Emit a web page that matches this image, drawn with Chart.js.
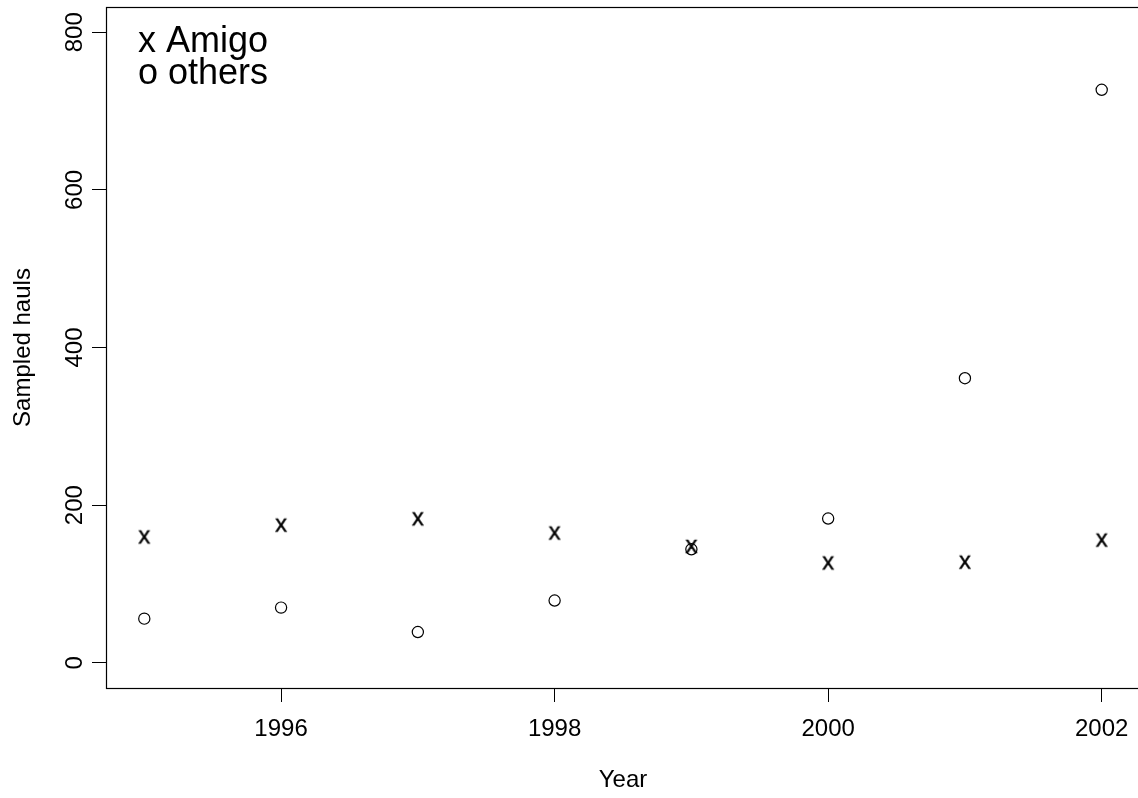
<!DOCTYPE html>
<html>
<head>
<meta charset="utf-8">
<script src="https://cdn.jsdelivr.net/npm/chart.js@4/dist/chart.umd.min.js"></script>
<style>
  html, body { margin: 0; padding: 0; background: #fff; overflow: hidden; }
  #wrap { width: 1147px; height: 798px; }
</style>
</head>
<body>
<div id="wrap"><canvas id="c" width="1147" height="798"></canvas></div>
<script>
// Sampled hauls per year: the Amigo vessel versus all other vessels
const years = [1995, 1996, 1997, 1998, 1999, 2000, 2001, 2002];
const amigoHauls = [159, 174, 182, 164, 147, 126, 127, 155];
const otherHauls = [56, 70, 39, 79, 144, 183, 361, 727];

const xTicks = [1996, 1998, 2000, 2002];
const yTicks = [0, 200, 400, 600, 800];
const legendLines = ['x Amigo', 'o others'];
const xTitle = 'Year';
const yTitle = 'Sampled hauls';

const FONT = '"Liberation Sans", Arial, Helvetica, sans-serif';

// letter "x" used as the marker glyph for the Amigo series
function letterMarker(ch, size) {
  const cv = document.createElement('canvas');
  cv.width = 22; cv.height = 22;
  const g = cv.getContext('2d');
  g.fillStyle = '#000';
  g.strokeStyle = '#000';
  g.lineWidth = 0.4;
  g.font = size + 'px ' + FONT;
  g.textAlign = 'center';
  g.textBaseline = 'alphabetic';
  const by = 11 + size * 0.519 / 2;
  g.fillText(ch, 11, by);
  g.strokeText(ch, 11, by);
  return cv;
}

// R-style axis range: 4% padding around the limits
function padRange(lo, hi) {
  const d = (hi - lo) * 0.04;
  return [lo - d, hi + d];
}
const [xMin, xMax] = padRange(years[0], years[years.length - 1]);
const [yMin, yMax] = padRange(0, 800);

const toPts = vals => years.map((y, i) => ({ x: y, y: vals[i] }));

const framePlugin = {
  id: 'frame',
  afterDraw(chart) {
    const { ctx, chartArea: a, scales } = chart;
    ctx.save();
    // box around the plotting region
    ctx.strokeStyle = '#000';
    ctx.lineWidth = 1.2;
    ctx.strokeRect(Math.round(a.left) + 0.5, Math.round(a.top) + 0.5,
                   Math.round(a.right - a.left), Math.round(a.bottom - a.top));

    ctx.fillStyle = '#000';
    // y tick labels, written upward
    ctx.font = '24px ' + FONT;
    ctx.textAlign = 'center';
    ctx.textBaseline = 'alphabetic';
    yTicks.forEach(v => {
      const py = scales.y.getPixelForValue(v);
      ctx.save();
      ctx.translate(82, py);
      ctx.rotate(-Math.PI / 2);
      ctx.fillText(String(v), 0, 0);
      ctx.restore();
    });

    // y axis title
    ctx.save();
    ctx.translate(30, (a.top + a.bottom) / 2);
    ctx.rotate(-Math.PI / 2);
    ctx.fillText(yTitle, 0, 0);
    ctx.restore();

    // x axis title
    ctx.fillText(xTitle, (a.left + a.right) / 2, 787);

    // legend text in the top-left corner
    ctx.font = '36px ' + FONT;
    ctx.textAlign = 'left';
    ctx.fillText(legendLines[0], 138, 52);
    ctx.fillText(legendLines[1], 138, 84);
    ctx.restore();
  }
};

new Chart(document.getElementById('c'), {
  type: 'scatter',
  data: {
    datasets: [
      {
        label: 'others',
        data: toPts(otherHauls),
        pointStyle: 'circle',
        radius: 5.6,
        borderWidth: 1.2,
        borderColor: '#000',
        backgroundColor: 'rgba(0,0,0,0)'
      },
      {
        label: 'Amigo',
        data: toPts(amigoHauls),
        pointStyle: letterMarker('x', 24),
        radius: 6,
        borderColor: '#000',
        backgroundColor: '#000'
      }
    ]
  },
  options: {
    responsive: false,
    animation: false,
    devicePixelRatio: 1,
    events: [],
    layout: { padding: { top: 6, right: 2, left: 0, bottom: 0 } },
    plugins: { legend: { display: false }, tooltip: { enabled: false } },
    scales: {
      x: {
        type: 'linear',
        min: xMin,
        max: xMax,
        afterBuildTicks: s => { s.ticks = xTicks.map(v => ({ value: v })); },
        afterFit: s => { s.height = 110; },
        border: { display: false },
        grid: {
          drawOnChartArea: false,
          drawTicks: true,
          tickLength: 14,
          tickColor: '#000',
          tickWidth: 1
        },
        ticks: {
          color: '#000',
          padding: 13,
          maxRotation: 0,
          autoSkip: false,
          font: { family: FONT, size: 24 },
          callback: v => String(v)
        }
      },
      y: {
        type: 'linear',
        min: yMin,
        max: yMax,
        afterBuildTicks: s => { s.ticks = yTicks.map(v => ({ value: v })); },
        afterFit: s => { s.width = 106; },
        border: { display: false },
        grid: {
          drawOnChartArea: false,
          drawTicks: true,
          tickLength: 14,
          tickColor: '#000',
          tickWidth: 1
        },
        ticks: { display: false }
      }
    }
  },
  plugins: [framePlugin]
});
</script>
</body>
</html>
